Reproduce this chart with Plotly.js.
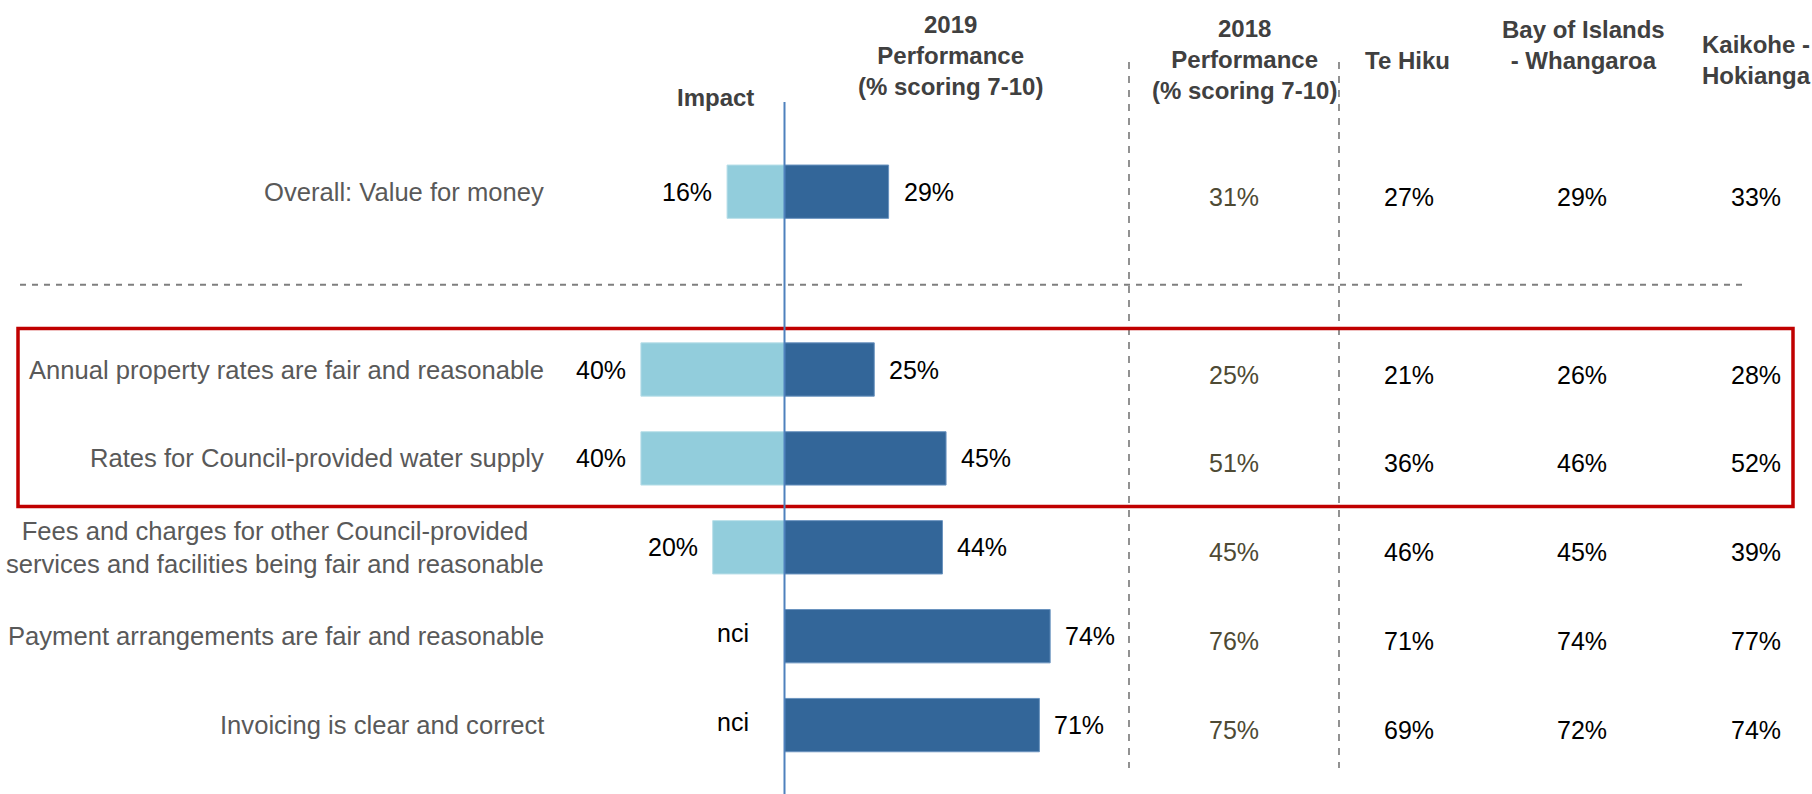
<!DOCTYPE html>
<html>
<head>
<meta charset="utf-8">
<script src="https://cdn.plot.ly/plotly-3.0.1.min.js"></script>
<style>
  html, body { margin: 0; padding: 0; background: #ffffff; }
  #chart { width: 1812px; height: 794px; }
</style>
</head>
<body>
<div id="chart"></div>
<script>
// ---------------- DATA ----------------
const categories = [
  "Overall: Value for money",
  " ",
  "Annual property rates are fair and reasonable",
  "Rates for Council-provided water supply",
  "Fees and charges for other Council-provided<br>services and facilities being fair and reasonable",
  "Payment arrangements are fair and reasonable",
  "Invoicing is clear and correct"
];
const impact      = [16, null, 40, 40, 20, null, null];
const perf2019    = [29, null, 25, 45, 44, 74, 71];
const perf2018    = [31, null, 25, 51, 45, 76, 75];
const teHiku      = [27, null, 21, 36, 46, 71, 69];
const bayOfIslands= [29, null, 26, 46, 45, 74, 72];
const kaikohe     = [33, null, 28, 52, 39, 77, 74];
const missingImpactLabel = "nci";

const headerImpact   = "Impact";
const header2019     = "2019<br>Performance<br>(% scoring 7-10)";
const header2018     = "2018<br>Performance<br>(% scoring 7-10)";
const headerTeHiku   = "Te Hiku";
const headerBay      = "Bay of Islands<br>- Whangaroa";
const headerKaikohe  = "Kaikohe -<br>Hokianga";

// ---------------- LAYOUT HELPERS ----------------
const W = 1812, H = 794;
const ZERO_PX = 784.5, PX_PER_PCT = 3.59;
const xMin = -ZERO_PX / PX_PER_PCT;
const xMax = (W - ZERO_PX) / PX_PER_PCT;
const ROW0_PX = 191.7, ROW_STEP = 88.9;
const yTop = -ROW0_PX / ROW_STEP;
const yBot = (H - ROW0_PX) / ROW_STEP;
const px2x = px => (px - ZERO_PX) / PX_PER_PCT;
const py2paper = py => 1 - py / H;
const px2paper = px => px / W;

const FONT = "'Liberation Sans', Arial, sans-serif";
const pct = v => (v === null ? null : v + "%");

// ---------------- TRACES ----------------
const traces = [];
traces.push({
  type: "bar", orientation: "h",
  y: categories, x: impact.map(v => v === null ? null : -v),
  width: 0.6,
  marker: { color: "#92CDDC", line: { color: "#b9dfe9", width: 1 } },
  hoverinfo: "skip"
});
traces.push({
  type: "bar", orientation: "h",
  y: categories, x: perf2019,
  width: 0.6,
  marker: { color: "#336699", line: { color: "#6a93bf", width: 1 } },
  hoverinfo: "skip"
});

// ---------------- ANNOTATIONS ----------------
const annotations = [];
function textColumn(values, colPx, color) {
  categories.forEach((c, i) => {
    if (values[i] === null) return;
    annotations.push({
      xref: "x", yref: "y", x: px2x(colPx), y: c,
      xanchor: "center", yanchor: "middle", yshift: -5,
      text: pct(values[i]), showarrow: false,
      font: { family: FONT, size: 25, color: color }
    });
  });
}
textColumn(perf2018, 1234, "#4E4A34");
textColumn(teHiku, 1409, "#000000");
textColumn(bayOfIslands, 1582, "#000000");
textColumn(kaikohe, 1756, "#000000");

// category labels
categories.forEach((c, i) => {
  if (perf2019[i] === null) return;
  annotations.push({
    xref: "x", yref: "y", x: px2x(546), y: c,
    xanchor: "right", yanchor: "middle", align: "center",
    text: c, showarrow: false,
    font: { family: FONT, size: 25.6, color: "#595959" }
  });
});
// bar value labels
categories.forEach((c, i) => {
  if (perf2019[i] === null) return;
  annotations.push({
    xref: "x", yref: "y", x: perf2019[i], y: c,
    xanchor: "left", yanchor: "middle", xshift: 13,
    text: pct(perf2019[i]), showarrow: false,
    font: { family: FONT, size: 25, color: "#000000" }
  });
  if (impact[i] !== null) {
    annotations.push({
      xref: "x", yref: "y", x: -impact[i], y: c,
      xanchor: "right", yanchor: "middle", xshift: -13,
      text: pct(impact[i]), showarrow: false,
      font: { family: FONT, size: 25, color: "#000000" }
    });
  } else {
    annotations.push({
      xref: "x", yref: "y", x: 0, y: c,
      xanchor: "center", yanchor: "middle", xshift: -52, yshift: 3,
      text: missingImpactLabel, showarrow: false,
      font: { family: FONT, size: 25, color: "#000000" }
    });
  }
});
// headers
function header(text, xpx, ypx) {
  annotations.push({
    xref: "paper", yref: "paper", x: px2paper(xpx), y: py2paper(ypx),
    xanchor: "center", yanchor: "middle", align: "center",
    text: "<b>" + text.split("<br>").join("</b><br><b>") + "</b>",
    showarrow: false,
    font: { family: FONT, size: 24, color: "#404040" }
  });
}
header(headerImpact, 715, 98);
header(header2019, 950, 56);
header(header2018, 1244, 59.5);
header(headerTeHiku, 1407, 61);
header(headerBay, 1583, 45);
header(headerKaikohe, 1756, 60);

// ---------------- SHAPES ----------------
const shapes = [
  // horizontal dashed separator
  { type: "line", xref: "paper", yref: "paper",
    x0: px2paper(20), x1: px2paper(1748), y0: py2paper(284.7), y1: py2paper(284.7),
    line: { color: "#7F7F7F", width: 2, dash: "6px,6px" } },
  // vertical dashed lines around 2018 column
  { type: "line", xref: "paper", yref: "paper",
    x0: px2paper(1129), x1: px2paper(1129), y0: py2paper(62), y1: py2paper(768),
    line: { color: "#7F7F7F", width: 1.7, dash: "7px,7px" } },
  { type: "line", xref: "paper", yref: "paper",
    x0: px2paper(1339), x1: px2paper(1339), y0: py2paper(62), y1: py2paper(768),
    line: { color: "#7F7F7F", width: 1.7, dash: "7px,7px" } },
  // red highlight box
  { type: "rect", xref: "paper", yref: "paper",
    x0: px2paper(18), x1: px2paper(1793), y0: py2paper(328.5), y1: py2paper(506.5),
    line: { color: "#C00000", width: 3.5 }, fillcolor: "rgba(0,0,0,0)" },
  // zero line
  { type: "line", xref: "x", yref: "paper",
    x0: 0, x1: 0, y0: py2paper(102), y1: 0,
    line: { color: "#4F81BD", width: 2 } }
];

const layout = {
  width: W, height: H,
  margin: { l: 0, r: 0, t: 0, b: 0, pad: 0 },
  paper_bgcolor: "#ffffff", plot_bgcolor: "#ffffff",
  showlegend: false,
  barmode: "overlay",
  xaxis: { range: [xMin, xMax], visible: false, fixedrange: true },
  yaxis: { type: "category", categoryarray: categories, categoryorder: "array",
           range: [yBot, yTop], visible: false, fixedrange: true },
  annotations: annotations,
  shapes: shapes,
  font: { family: FONT }
};

Plotly.newPlot("chart", traces, layout, { displayModeBar: false, staticPlot: true });
</script>
</body>
</html>
